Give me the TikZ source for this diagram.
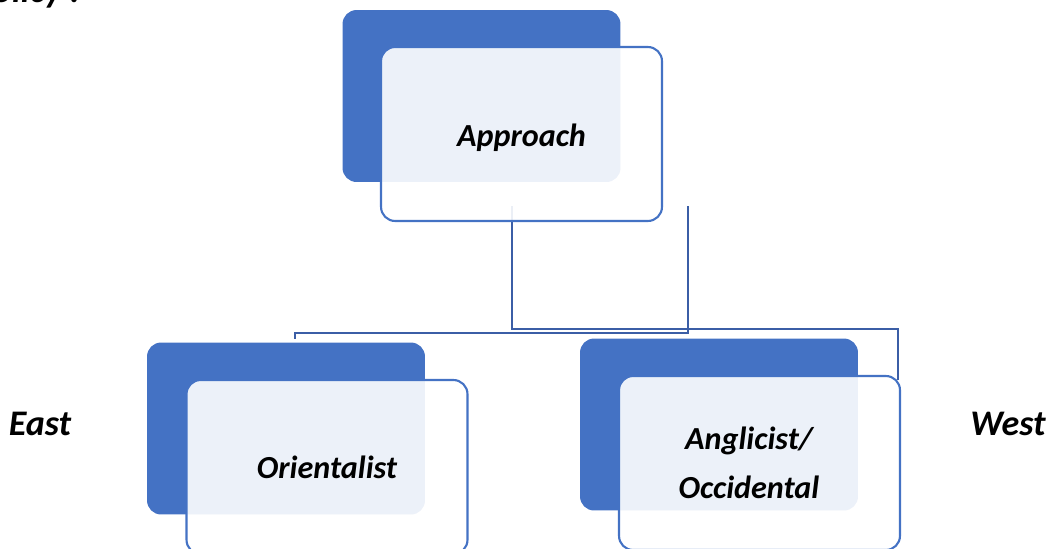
\documentclass[tikz,border=0pt]{standalone}
\usepackage{fontspec}
\setmainfont{Carlito}
\definecolor{darkblue}{RGB}{68,114,196}
\definecolor{linkblue}{RGB}{59,94,166}
\begin{document}
\begin{tikzpicture}[x=0.02cm,y=-0.02cm,
  backbox/.style={fill=darkblue,rounded corners=8pt,minimum width=5.56cm,minimum height=3.44cm,inner sep=0pt},
  frontbox/.style={draw=darkblue,line width=1.2pt,fill=white,fill opacity=0.9,text opacity=1,rounded corners=8pt,minimum width=5.62cm,minimum height=3.48cm,inner sep=0pt},
  lbl/.style={font=\fontsize{18.3}{27.8}\selectfont\bfseries\itshape,align=center,inner sep=0pt},
  sidelbl/.style={font=\fontsize{20.5}{24}\selectfont\bfseries\itshape,inner sep=0pt},
  link/.style={draw=linkblue,line width=1.35pt}]
\useasboundingbox (0,0) rectangle (1058,548);
\clip (0,0) rectangle (1058,548);
% back boxes
\path (481.5,96) node[backbox] (topD) {};
\path (286,428.5) node[backbox] (leftD) {};
\path (719,424.5) node[backbox] (rightD) {};
% connectors (behind the front boxes)
\coordinate (c1s) at (512,206);
\coordinate (c2s) at (688,206);
\coordinate (c1e) at (898,380);
\coordinate (c2e) at ([shift={(9,-3)}]leftD.north);
\draw[link] (c1s) -- ++(0,123) -| (c1e);
\draw[link] (c2s) -- ++(0,127) -| (c2e);
% front boxes
\node[frontbox] (topL) at (521.5,134) {};
\node[frontbox] (leftL) at (327,467) {};
\node[frontbox] (rightL) at (759.5,463) {};
% texts
\node[lbl] (tA) at ([yshift=-2pt]topL.center) {Approach};
\node[lbl] (tO) at (leftL.center) {Orientalist};
\node[lbl] (tW) at ([xshift=-6]rightL.center) {Anglicist/\\Occidental};
% side labels
\node[sidelbl] (east) at (40,424) {East};
\node[sidelbl] (west) at (1008,424) {West};
\node[sidelbl,anchor=base east] (policy) at (80,2) {Policy :};
\end{tikzpicture}
\end{document}
